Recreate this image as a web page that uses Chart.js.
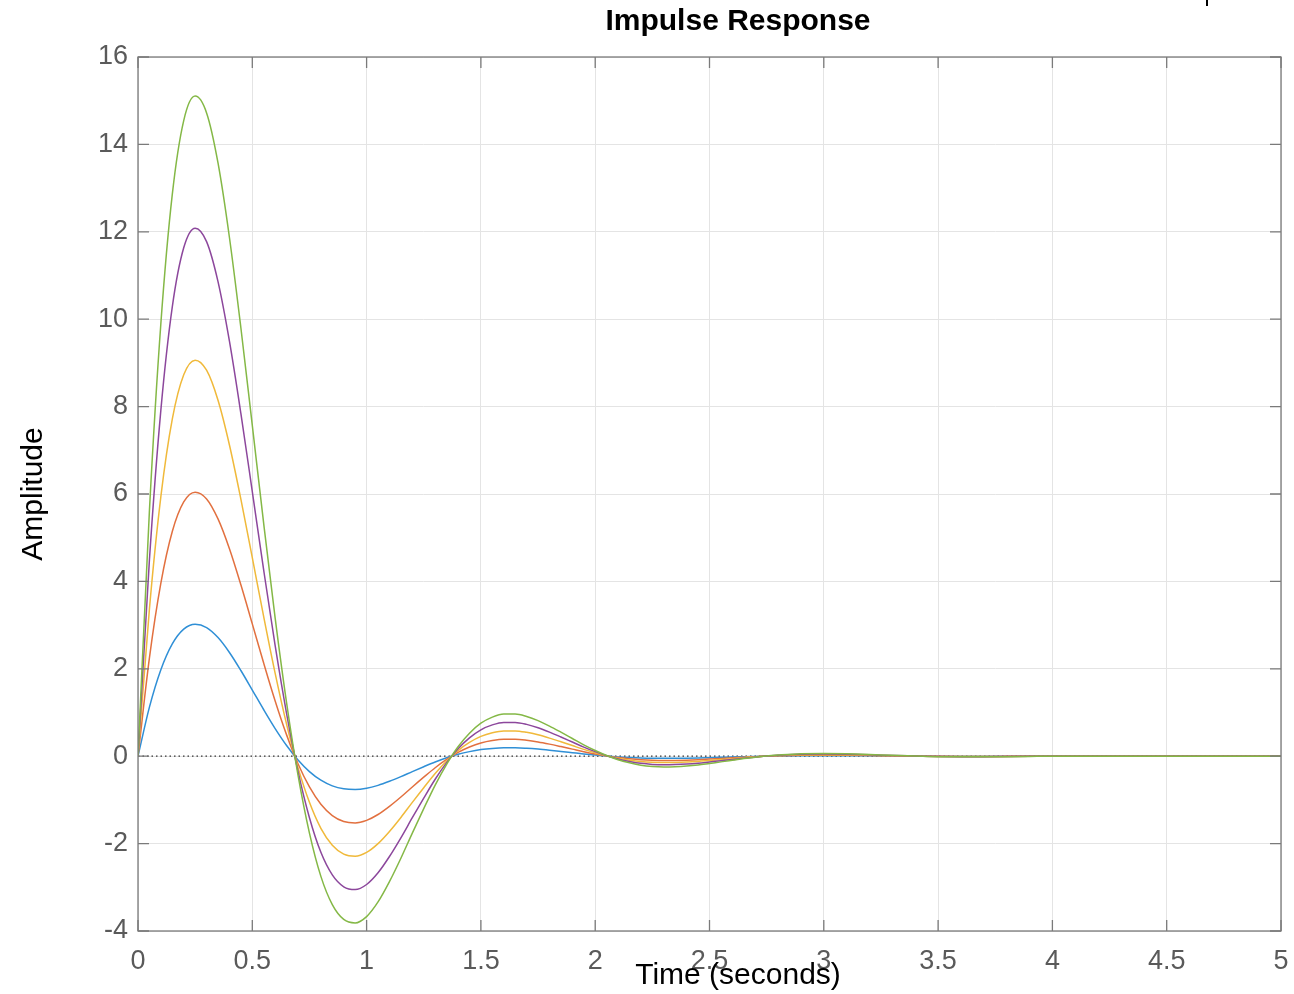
<!DOCTYPE html>
<html>
<head>
<meta charset="utf-8">
<title>Impulse Response</title>
<script src="https://cdn.jsdelivr.net/npm/chart.js@4.4.1/dist/chart.umd.min.js"></script>
<style>
  html, body { margin: 0; padding: 0; background: #fff; }
  #wrap { width: 1294px; height: 994px; }
</style>
</head>
<body>
<div id="wrap"><canvas id="impulse" width="1294" height="994"></canvas></div>
<script>
'use strict';

// time samples (seconds)
var times = [
  0, 0.05, 0.1, 0.15, 0.2, 0.25, 0.3, 0.35, 0.4, 0.45,
  0.5, 0.55, 0.6, 0.65, 0.7, 0.75, 0.8, 0.85, 0.9, 0.95,
  1, 1.05, 1.1, 1.15, 1.2, 1.25, 1.3, 1.35, 1.4, 1.45,
  1.5, 1.55, 1.6, 1.65, 1.7, 1.75, 1.8, 1.85, 1.9, 1.95,
  2, 2.05, 2.1, 2.15, 2.2, 2.25, 2.3, 2.35, 2.4, 2.45,
  2.5, 2.55, 2.6, 2.65, 2.7, 2.75, 2.8,
  2.9, 3, 3.1, 3.2, 3.3, 3.4, 3.5, 3.6, 3.7, 3.8, 3.9, 4,
  4.5, 5
];

// amplitudes, one array per system
var sys1 = [ // blue
  0, 1.124, 1.980, 2.571, 2.909, 3.021, 2.944, 2.715, 2.374, 1.961,
  1.514, 1.063, 0.632, 0.244, -0.087, -0.352, -0.550, -0.679, -0.747, -0.763,
  -0.734, -0.667, -0.574, -0.467, -0.352, -0.240, -0.132, -0.037, 0.043, 0.105,
  0.151, 0.179, 0.193, 0.193, 0.182, 0.163, 0.138, 0.110, 0.081, 0.052,
  0.026, 0.003, -0.016, -0.030, -0.041, -0.047, -0.049, -0.048, -0.045, -0.040,
  -0.033, -0.026, -0.019, -0.011, -0.005, 0.001, 0.005,
  0.011, 0.012, 0.011, 0.008, 0.004, 0.001, -0.002, -0.003, -0.003, -0.002, -0.001, 0,
  0, 0
];
var sys2 = [ // orange
  0, 2.248, 3.960, 5.142, 5.818, 6.042, 5.888, 5.430, 4.748, 3.922,
  3.028, 2.126, 1.264, 0.488, -0.174, -0.704, -1.100, -1.358, -1.494, -1.526,
  -1.468, -1.334, -1.148, -0.934, -0.704, -0.480, -0.264, -0.074, 0.086, 0.210,
  0.302, 0.358, 0.386, 0.386, 0.364, 0.326, 0.276, 0.220, 0.162, 0.104,
  0.052, 0.006, -0.032, -0.060, -0.082, -0.094, -0.098, -0.096, -0.090, -0.080,
  -0.066, -0.052, -0.038, -0.022, -0.010, 0.002, 0.010,
  0.022, 0.024, 0.022, 0.016, 0.008, 0.002, -0.004, -0.006, -0.006, -0.004, -0.002, 0,
  0, 0
];
var sys3 = [ // yellow
  0, 3.372, 5.940, 7.713, 8.727, 9.063, 8.832, 8.145, 7.122, 5.883,
  4.542, 3.189, 1.896, 0.732, -0.261, -1.056, -1.650, -2.037, -2.241, -2.289,
  -2.202, -2.001, -1.722, -1.401, -1.056, -0.720, -0.396, -0.111, 0.129, 0.315,
  0.453, 0.537, 0.579, 0.579, 0.546, 0.489, 0.414, 0.330, 0.243, 0.156,
  0.078, 0.009, -0.048, -0.090, -0.123, -0.141, -0.147, -0.144, -0.135, -0.120,
  -0.099, -0.078, -0.057, -0.033, -0.015, 0.003, 0.015,
  0.033, 0.036, 0.033, 0.024, 0.012, 0.003, -0.006, -0.009, -0.009, -0.006, -0.003, 0,
  0, 0
];
var sys4 = [ // purple
  0, 4.496, 7.920, 10.284, 11.636, 12.084, 11.776, 10.860, 9.496, 7.844,
  6.056, 4.252, 2.528, 0.976, -0.348, -1.408, -2.200, -2.716, -2.988, -3.052,
  -2.936, -2.668, -2.296, -1.868, -1.408, -0.960, -0.528, -0.148, 0.172, 0.420,
  0.604, 0.716, 0.772, 0.772, 0.728, 0.652, 0.552, 0.440, 0.324, 0.208,
  0.104, 0.012, -0.064, -0.120, -0.164, -0.188, -0.196, -0.192, -0.180, -0.160,
  -0.132, -0.104, -0.076, -0.044, -0.020, 0.004, 0.020,
  0.044, 0.048, 0.044, 0.032, 0.016, 0.004, -0.008, -0.012, -0.012, -0.008, -0.004, 0,
  0, 0
];
var sys5 = [ // green
  0, 5.620, 9.900, 12.855, 14.545, 15.105, 14.720, 13.575, 11.870, 9.805,
  7.570, 5.315, 3.160, 1.220, -0.435, -1.760, -2.750, -3.395, -3.735, -3.815,
  -3.670, -3.335, -2.870, -2.335, -1.760, -1.200, -0.660, -0.185, 0.215, 0.525,
  0.755, 0.895, 0.965, 0.965, 0.910, 0.815, 0.690, 0.550, 0.405, 0.260,
  0.130, 0.015, -0.080, -0.150, -0.205, -0.235, -0.245, -0.240, -0.225, -0.200,
  -0.165, -0.130, -0.095, -0.055, -0.025, 0.005, 0.025,
  0.055, 0.060, 0.055, 0.040, 0.020, 0.005, -0.010, -0.015, -0.015, -0.010, -0.005, 0,
  0, 0
];

var xTicks = [0, 0.5, 1, 1.5, 2, 2.5, 3, 3.5, 4, 4.5, 5];
var yTicks = [-4, -2, 0, 2, 4, 6, 8, 10, 12, 14, 16];

var FONT = '"Liberation Sans", Arial, Helvetica, sans-serif';

function toPoints(ys) {
  return times.map(function (t, i) { return { x: t, y: ys[i] }; });
}

function lineSet(label, ys, color, order) {
  return {
    label: label,
    data: toPoints(ys),
    borderColor: color,
    borderWidth: 1.5,
    pointRadius: 0,
    fill: false,
    cubicInterpolationMode: 'monotone',
    order: order
  };
}

// MATLAB-ish box with inward ticks, plus title and axis labels
var matlabFrame = {
  id: 'matlabFrame',
  afterDraw: function (chart) {
    var ctx = chart.ctx;
    var a = chart.chartArea;
    var xs = chart.scales.x, ys = chart.scales.y;
    var tick = 11;
    ctx.save();
    ctx.strokeStyle = '#7a7a7a';
    ctx.lineWidth = 1.3;
    ctx.strokeRect(a.left, a.top, a.right - a.left, a.bottom - a.top);
    ctx.beginPath();
    xTicks.forEach(function (v) {
      var px = xs.getPixelForValue(v);
      ctx.moveTo(px, a.bottom); ctx.lineTo(px, a.bottom - tick);
      ctx.moveTo(px, a.top); ctx.lineTo(px, a.top + tick);
    });
    yTicks.forEach(function (v) {
      var py = ys.getPixelForValue(v);
      ctx.moveTo(a.left, py); ctx.lineTo(a.left + tick, py);
      ctx.moveTo(a.right, py); ctx.lineTo(a.right - tick, py);
    });
    ctx.stroke();

    ctx.fillStyle = '#000';
    ctx.textAlign = 'center';
    ctx.textBaseline = 'alphabetic';
    ctx.font = 'bold 30px ' + FONT;
    ctx.fillText('Impulse Response', 738, 30);
    ctx.font = '30px ' + FONT;
    ctx.fillText('Time (seconds)', 738, 984);
    ctx.translate(42, (a.top + a.bottom) / 2);
    ctx.rotate(-Math.PI / 2);
    ctx.fillText('Amplitude', 0, 0);
    ctx.restore();

    // stray mark in the top right corner of the original figure
    ctx.fillStyle = '#000';
    ctx.fillRect(1206, 0, 2, 6);
  }
};

var ctx = document.getElementById('impulse').getContext('2d');
var impulseChart = new Chart(ctx, {
  type: 'line',
  data: {
    datasets: [
      {
        label: 'zero',
        data: [{ x: 0, y: 0 }, { x: 5, y: 0 }],
        borderColor: '#333',
        borderWidth: 1.2,
        borderDash: [1.5, 3],
        pointRadius: 0,
        fill: false,
        order: 10
      },
      lineSet('sys1', sys1, '#2f8fd6', 5),
      lineSet('sys2', sys2, '#e2703f', 4),
      lineSet('sys3', sys3, '#f0b93a', 3),
      lineSet('sys4', sys4, '#8c479c', 2),
      lineSet('sys5', sys5, '#84b846', 1)
    ]
  },
  options: {
    responsive: false,
    animation: false,
    devicePixelRatio: 1,
    layout: { padding: { left: 0, right: 13, top: 57, bottom: 0 } },
    plugins: {
      legend: { display: false },
      tooltip: { enabled: false },
      title: { display: false }
    },
    scales: {
      x: {
        type: 'linear',
        min: 0,
        max: 5,
        afterBuildTicks: function (scale) {
          scale.ticks = xTicks.map(function (v) { return { value: v }; });
        },
        afterFit: function (scale) {
          scale.height = 63;
          scale.paddingLeft = 0;
          scale.paddingRight = 0;
        },
        grid: { color: '#e4e4e4', lineWidth: 1, drawTicks: false },
        border: { display: false },
        ticks: {
          color: '#5a5a5a',
          padding: 14,
          maxRotation: 0,
          autoSkip: false,
          font: { family: FONT, size: 27 },
          callback: function (v) { return String(v); }
        }
      },
      y: {
        type: 'linear',
        min: -4,
        max: 16,
        afterBuildTicks: function (scale) {
          scale.ticks = yTicks.map(function (v) { return { value: v }; });
        },
        afterFit: function (scale) {
          scale.width = 138;
          scale.paddingTop = 0;
          scale.paddingBottom = 0;
        },
        grid: { color: '#e4e4e4', lineWidth: 1, drawTicks: false },
        border: { display: false },
        ticks: {
          color: '#5a5a5a',
          padding: 10,
          autoSkip: false,
          font: { family: FONT, size: 27 },
          callback: function (v) { return String(v); }
        }
      }
    }
  },
  plugins: [matlabFrame]
});
</script>
</body>
</html>
